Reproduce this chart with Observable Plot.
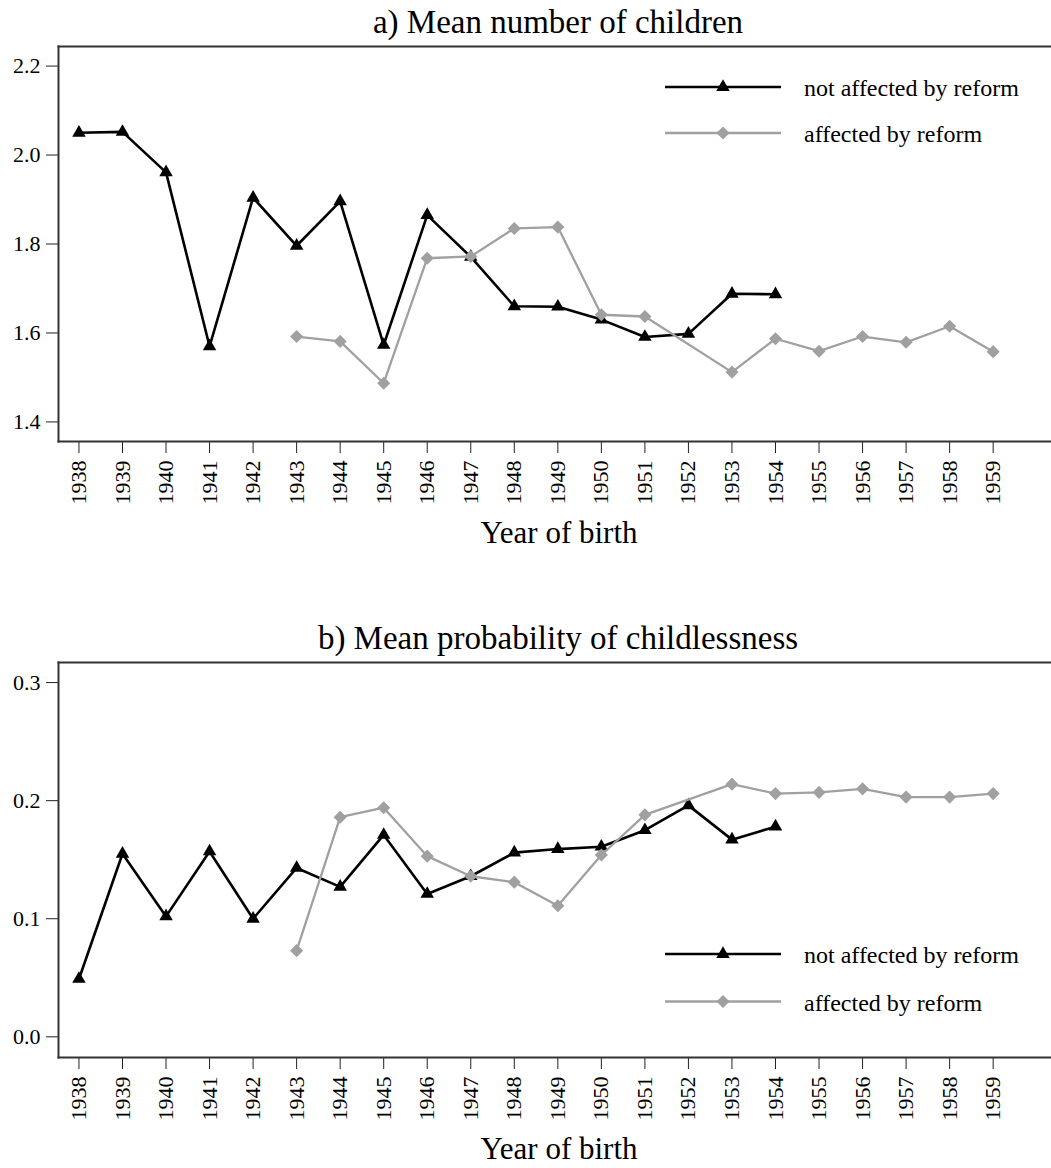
<!DOCTYPE html>
<html>
<head>
<meta charset="utf-8">
<script src="https://cdn.jsdelivr.net/npm/d3@7"></script>
<script src="https://cdn.jsdelivr.net/npm/@observablehq/plot@0.6"></script>
<style>
  html, body { margin: 0; padding: 0; background: #fff; }
  #chart svg { display: block; }
  #chart svg text { font-family: "Liberation Serif", "Times New Roman", serif !important; }
</style>
</head>
<body>
<div id="chart"></div>
<script>
// ---- data ----
const tickYears = [1938,1939,1940,1941,1942,1943,1944,1945,1946,1947,1948,1949,1950,1951,1952,1953,1954,1955,1956,1957,1958,1959];

const notAffectedYears = [1938,1939,1940,1941,1942,1943,1944,1945,1946,1947,1948,1949,1950,1951,1952,1953,1954];
const affectedYears = [1943,1944,1945,1946,1947,1948,1949,1950,1951,1953,1954,1955,1956,1957,1958,1959];

const childrenNotAffected = [2.050,2.052,1.961,1.570,1.904,1.796,1.896,1.573,1.865,1.771,1.660,1.659,1.630,1.591,1.598,1.688,1.687];
const childrenAffected = [1.592,1.581,1.487,1.768,1.772,1.835,1.838,1.641,1.637,1.512,1.587,1.559,1.592,1.579,1.615,1.558];

const childlessNotAffected = [0.049,0.155,0.102,0.157,0.100,0.143,0.127,0.171,0.121,0.136,0.156,0.159,0.161,0.175,0.196,0.167,0.178];
const childlessAffected = [0.073,0.186,0.194,0.153,0.136,0.131,0.111,0.154,0.188,0.214,0.206,0.207,0.210,0.203,0.203,0.206];

const yTicksA = [1.4,1.6,1.8,2.0,2.2];
const yTicksB = [0.0,0.1,0.2,0.3];

const seriesNames = ["not affected by reform", "affected by reform"];
const titleA = "a) Mean number of children";
const titleB = "b) Mean probability of childlessness";
const xLabel = "Year of birth";

// ---- styling ----
const BLACK = "#000000";
const GREY = "#a0a0a0";
const FONT = "Liberation Serif";

function rows(years, values) {
  return years.map((yr, i) => ({year: yr, value: values[i]}));
}

function panel({title, notAff, aff, yDomain, yTicks, marginTop, marginBottom, titleDy, labelDy, legendRows}) {
  const height = 584;
  const svg = Plot.plot({
    width: 1051,
    height,
    marginLeft: 58,
    marginRight: 0,
    marginTop,
    marginBottom,
    style: {fontFamily: FONT, fontSize: "22px", color: "#222", background: "#fff", overflow: "visible"},
    x: {domain: [1937.53, 1960.34]},
    y: {domain: yDomain},
    marks: [
      Plot.axisX({
        ticks: tickYears, tickFormat: d3.format("d"), tickRotate: -90,
        tickSize: 12, tickPadding: 7, label: null, fontSize: 22, fill: "#000"
      }),
      Plot.axisY({
        ticks: yTicks, tickFormat: d3.format(".1f"),
        tickSize: 12, tickPadding: 6, label: null, fontSize: 22, fill: "#000"
      }),
      Plot.frame({anchor: "top", stroke: "#333", strokeWidth: 2}),
      Plot.frame({anchor: "left", stroke: "#333", strokeWidth: 2}),
      Plot.frame({anchor: "bottom", stroke: "#333", strokeWidth: 2}),
      Plot.line(notAff, {x: "year", y: "value", stroke: BLACK, strokeWidth: 2.6}),
      Plot.dot(notAff, {x: "year", y: "value", symbol: "triangle", fill: BLACK, r: 5}),
      Plot.line(aff, {x: "year", y: "value", stroke: GREY, strokeWidth: 2.3}),
      Plot.dot(aff, {x: "year", y: "value", symbol: "diamond2", fill: GREY, r: 5.9}),
      Plot.text([title], {frameAnchor: "top", lineAnchor: "middle", dx: 3, dy: titleDy, fontSize: 33, fill: "#000"}),
      Plot.text([xLabel], {frameAnchor: "bottom", lineAnchor: "middle", dx: 4, dy: labelDy, fontSize: 31, fill: "#000"})
    ]
  });

  // legend drawn inside the plotting area
  const s = d3.select(svg);
  const g = s.append("g").attr("font-family", FONT).attr("font-size", 24).attr("text-anchor", "start");
  const defs = [
    {name: seriesNames[0], color: BLACK, sw: 2.6, sym: d3.symbolTriangle, size: 5 * 5 * Math.PI},
    {name: seriesNames[1], color: GREY, sw: 2.3, sym: d3.symbolDiamond2, size: 5.9 * 5.9 * Math.PI}
  ];
  defs.forEach((d, i) => {
    const y = legendRows[i];
    g.append("line").attr("x1", 665).attr("x2", 781).attr("y1", y).attr("y2", y)
      .attr("stroke", d.color).attr("stroke-width", d.sw);
    g.append("path").attr("d", d3.symbol(d.sym, d.size)()).attr("transform", `translate(723,${y})`).attr("fill", d.color);
    g.append("text").attr("x", 804).attr("y", y + 9).attr("fill", "#000").attr("text-anchor", "start").text(d.name);
  });
  return svg;
}

const chart = document.getElementById("chart");
chart.append(panel({
  title: titleA,
  notAff: rows(notAffectedYears, childrenNotAffected),
  aff: rows(affectedYears, childrenAffected),
  yDomain: [1.356, 2.244],
  yTicks: yTicksA,
  marginTop: 46,
  marginBottom: 143,
  titleDy: -24,
  labelDy: 92,
  legendRows: [87, 133]
}));
chart.append(panel({
  title: titleB,
  notAff: rows(notAffectedYears, childlessNotAffected),
  aff: rows(affectedYears, childlessAffected),
  yDomain: [-0.0175, 0.317],
  yTicks: yTicksB,
  marginTop: 78,
  marginBottom: 111,
  titleDy: -24,
  labelDy: 92,
  legendRows: [370, 417.5]
}));
</script>
</body>
</html>
